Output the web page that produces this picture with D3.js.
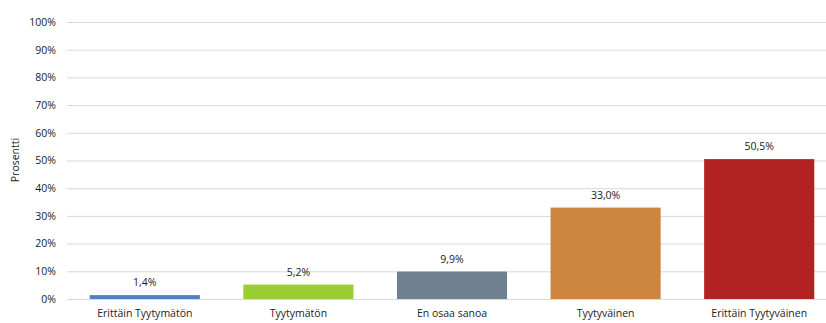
<!DOCTYPE html>
<html><head><meta charset="utf-8">
<script src="https://cdn.jsdelivr.net/npm/d3@7"></script>
<style>body{margin:0;background:#fff}svg{display:block}text{font-family:"Open Sans",sans-serif;fill:#222}</style>
</head><body><svg id="c" width="826" height="323"></svg>
<script>
const categories = ["Erittäin Tyytymätön","Tyytymätön","En osaa sanoa","Tyytyväinen","Erittäin Tyytyväinen"];
const values = [1.4, 5.2, 9.9, 33.0, 50.5];
const colors = ["#4F81BD","#9ACD32","#708090","#CD853F","#B22222"];
const yTicks = [0,10,20,30,40,50,60,70,80,90,100];
const yTitle = "Prosentti";

const svg = d3.select("#c");
const x = d3.scaleBand().domain(categories).range([68, 836]).paddingInner(0.283).paddingOuter(0.1415);
const y = d3.scaleLinear().domain([0,100]).range([299, 22]);
const fmt = v => v.toFixed(1).replace(".", ",") + "%";
const fs = 10.5;

const g = svg.append("g");
g.selectAll("line.grid").data(yTicks).join("line")
  .attr("x1", 67).attr("x2", 826)
  .attr("y1", d => y(d)+0.5).attr("y2", d => y(d)+0.5)
  .attr("stroke", "#d9d9d9").attr("stroke-width", 1);

const yAxis = d3.axisLeft(y).tickValues(yTicks).tickSize(0).tickPadding(0).tickFormat(d => d + "%");
svg.append("g").attr("transform","translate(56,0)").call(yAxis)
  .call(a => a.select(".domain").remove())
  .call(a => a.selectAll("text").attr("font-size", fs).style("font-family","'Open Sans',sans-serif").attr("fill","#222"));

svg.append("text").attr("transform","translate(19,160) rotate(-90)")
  .attr("text-anchor","middle").attr("font-size",fs).text(yTitle);

svg.selectAll("rect.bar").data(values).join("rect")
  .attr("x", (d,i) => x(categories[i])).attr("width", x.bandwidth())
  .attr("y", d => y(d)).attr("height", d => y(0) - y(d))
  .attr("fill", (d,i) => colors[i]);

svg.selectAll("text.val").data(values).join("text")
  .attr("x", (d,i) => x(categories[i]) + x.bandwidth()/2)
  .attr("y", d => y(d) - 9)
  .attr("text-anchor","middle").attr("font-size",fs).text(d => fmt(d));

const xAxis = d3.axisBottom(x).tickSize(0).tickPadding(0);
svg.append("g").attr("transform","translate(0,311)").call(xAxis)
  .call(a => a.select(".domain").remove())
  .call(a => a.selectAll("text").attr("font-size", fs).attr("dy","0.6em").style("font-family","'Open Sans',sans-serif").attr("fill","#222"));
</script></body></html>
